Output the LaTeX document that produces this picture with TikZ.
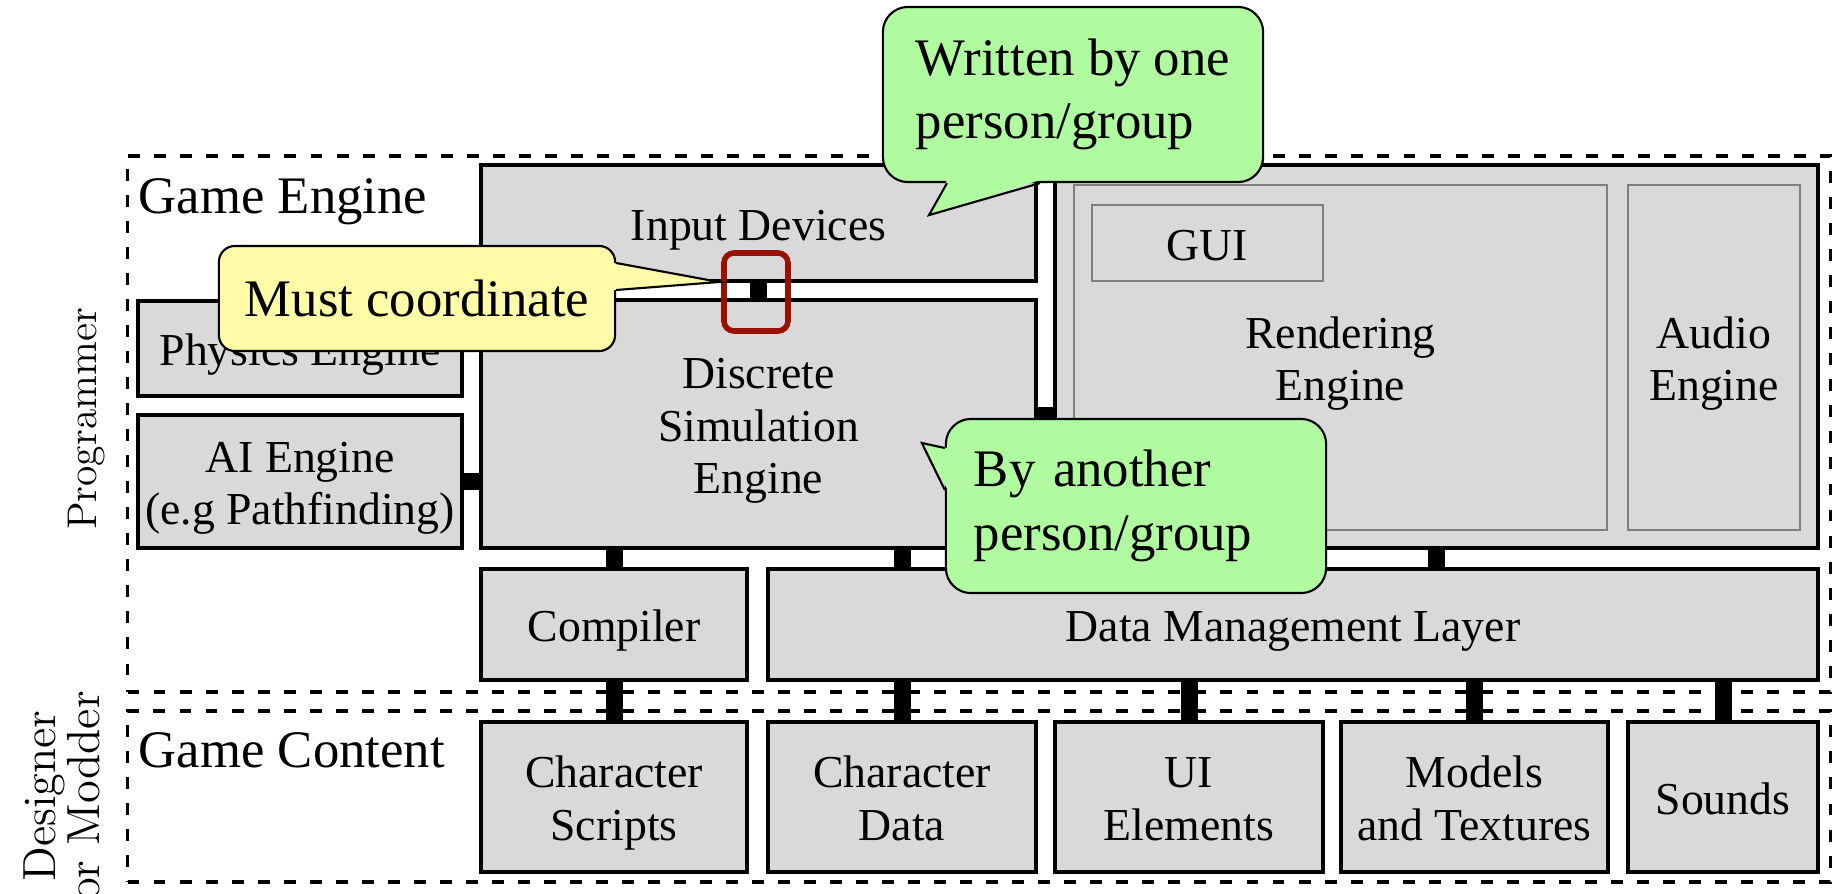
\documentclass[tikz,border=0pt]{standalone}
\usepackage{fontspec}
\newfontfamily\tnr{Liberation Serif}
\usetikzlibrary{calc}
\definecolor{boxgray}{HTML}{D9D9D9}
\definecolor{calloutyellow}{HTML}{FFFBA6}
\definecolor{calloutgreen}{HTML}{B0FAA0}
\definecolor{markred}{HTML}{991100}
\definecolor{thingray}{HTML}{7F7F7F}
\newcommand\bx[1]{\raisebox{-0.065cm}[\height][\depth]{\begin{tabular}{@{}c@{}}#1\end{tabular}}}
\begin{document}
\begin{tikzpicture}[x=0.01cm,y=-0.01cm,
  box/.style={draw=black, line width=1.2pt, fill=boxgray, inner sep=0pt,
    font=\tnr\fontsize{13}{15}\selectfont},
  innerbox/.style={draw=thingray, line width=0.45pt, fill=boxgray, inner sep=0pt,
    font=\tnr\fontsize{13}{15}\selectfont},
  bar/.style={line width=0.17cm, black},
  region/.style={draw=black, line width=1pt, dash pattern=on 3.4pt off 4pt, inner sep=0pt},
  biglabel/.style={font=\tnr\fontsize{15}{18}\selectfont, inner sep=0pt},
  callout/.style={draw=black, line width=0.6pt, inner sep=0pt,
    font=\tnr\fontsize{15}{18}\selectfont},
  cline/.style={draw=black, line width=0.6pt, line join=miter},
  rolelabel/.style={rotate=90, inner sep=0pt, align=center}
]
\useasboundingbox (0,0) rectangle (1836,894);

% dashed regions
\node[region, minimum width=17.02cm, minimum height=5.36cm] (gereg) at (979,424) {};
\node[region, minimum width=17.02cm, minimum height=1.71cm] (gcreg) at (979,796.5) {};
\node[biglabel, anchor=base west] (gelabel) at (138,214) {Game Engine};
\node[biglabel, anchor=base west] (gclabel) at (138,767) {Game Content};

% role labels
\node[rolelabel, anchor=base, font=\fontsize{11.8}{12}\selectfont] (prog) at (96,419) {Programmer};
\node[rolelabel, font=\fontsize{13.2}{12.4}\selectfont] (desig) at (62,796) {Designer\\or Modder};

% engine boxes
\node[box, minimum width=5.55cm, minimum height=1.16cm] (inp) at (758.5,223) {\bx{Input Devices}};
\node[box, minimum width=5.55cm, minimum height=2.48cm] (dse) at (758.5,424) {\bx{Discrete\\Simulation\\Engine}};
\node[box, minimum width=3.24cm, minimum height=0.95cm] (phys) at (300,348.5) {\bx{Physics Engine}};
\node[box, minimum width=3.24cm, minimum height=1.33cm] (ai) at (300,481.5) {\bx{AI Engine\\(e.g Pathfinding)}};
\node[box, minimum width=7.63cm, minimum height=3.83cm] (right) at (1436.5,356.5) {};
\node[innerbox, minimum width=5.33cm, minimum height=3.45cm] (rend) at (1340.5,357.5) {\bx{Rendering\\Engine}};
\node[innerbox, minimum width=1.72cm, minimum height=3.45cm] (audio) at (1714,357.5) {\bx{Audio\\Engine}};
\node[innerbox, minimum width=2.31cm, minimum height=0.76cm] (gui) at (1207.5,243) {\bx{GUI}};
\node[box, minimum width=2.66cm, minimum height=1.11cm] (comp) at (614,624.5) {\bx{Compiler}};
\node[box, minimum width=10.50cm, minimum height=1.11cm] (dml) at (1293,624.5) {\bx{Data Management Layer}};

% content boxes
\node[box, minimum width=2.66cm, minimum height=1.50cm] (cs) at (614,797) {\bx{Character\\Scripts}};
\node[box, minimum width=2.68cm, minimum height=1.50cm] (cd) at (902,797) {\bx{Character\\Data}};
\node[box, minimum width=2.68cm, minimum height=1.50cm] (ui) at (1189,797) {\bx{UI\\Elements}};
\node[box, minimum width=2.67cm, minimum height=1.50cm] (mt) at (1474.5,797) {\bx{Models\\and Textures}};
\node[box, minimum width=1.90cm, minimum height=1.50cm] (snd) at (1723,797) {\bx{Sounds}};

% connectors
\draw[bar] (inp.south) -- (dse.north);
\draw[bar] (ai.east) -- (ai.east -| dse.west);
\draw[bar] ([yshift=0.08cm]dse.east) -- ([yshift=0.08cm]dse.east -| right.west);
\draw[bar] (comp.north) -- (comp.north |- dse.south);
\draw[bar] (cd.north |- dse.south) -- (cd.north |- dml.north);
\draw[bar] (right.south) -- (right.south |- dml.north);
\draw[bar] (comp.south) -- (cs.north);
\draw[bar] (cd.north) -- (cd.north |- dml.south);
\draw[bar] (ui.north) -- (ui.north |- dml.south);
\draw[bar] (mt.north) -- (mt.north |- dml.south);
\draw[bar] (snd.north) -- (snd.north |- dml.south);

% highlight
\node[draw=markred, line width=1.6pt, rounded corners=0.1cm, minimum width=0.64cm,
  minimum height=0.78cm, inner sep=0pt] (redbox) at (756,292) {};

% callout: must coordinate
\node[callout, fill=calloutyellow, rounded corners=0.16cm, minimum width=3.96cm,
  minimum height=1.05cm] (mustc) at (417,298.5) {Must coordinate};
\fill[calloutyellow] ($(mustc.east)+(-3,-35.5)$) -- ($(mustc.east)+(103,-16.5)$) -- ($(mustc.east)+(-3,-8.5)$) -- cycle;
\draw[cline] ($(mustc.east)+(0,-35.5)$) -- ($(mustc.east)+(103,-16.5)$) -- ($(mustc.east)+(0,-8.5)$);

% callout: written by one
\node[callout, fill=calloutgreen, rounded corners=0.25cm, minimum width=3.80cm,
  minimum height=1.75cm, align=left] (writ) at (1073,94.5)
  {Written by one\\person/group};
\fill[calloutgreen] ($(writ.south)+(-126,-3)$) -- ($(writ.south)+(-144,32)$) -- ($(writ.south)+(-33,-3)$) -- cycle;
\draw[cline] ($(writ.south)+(-126,0)$) -- ($(writ.south)+(-144,32)$) -- ($(writ.south)+(-33,0)$);

% callout: by another
\node[callout, fill=calloutgreen, rounded corners=0.25cm, minimum width=3.80cm,
  minimum height=1.74cm, text width=3.24cm, inner xsep=0.28cm, align=left] (byan) at (1136,506)
  {By another\\person/group};
\fill[calloutgreen] ($(byan.west)+(3,-58)$) -- ($(byan.west)+(-23,-63)$) -- ($(byan.west)+(3,-16)$) -- cycle;
\draw[cline] ($(byan.west)+(0,-58)$) -- ($(byan.west)+(-23,-63)$) -- ($(byan.west)+(0,-16)$);
\end{tikzpicture}
\end{document}
